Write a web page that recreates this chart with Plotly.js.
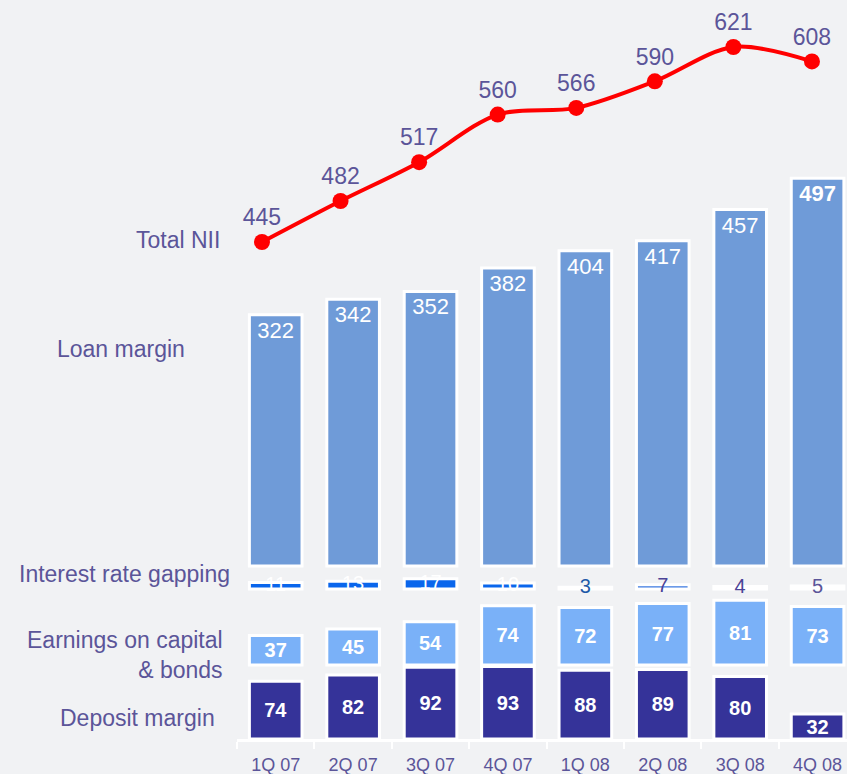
<!DOCTYPE html>
<html>
<head>
<meta charset="utf-8">
<script src="https://cdn.plot.ly/plotly-3.0.1.min.js"></script>
<style>
html,body{margin:0;padding:0;background:#f1f2f4;}
#chart{width:847px;height:774px;}
</style>
</head>
<body>
<div id="chart"></div>
<script>
// ---- data ----
const quarters = ['1Q 07','2Q 07','3Q 07','4Q 07','1Q 08','2Q 08','3Q 08','4Q 08'];
const totalNII = [445, 482, 517, 560, 566, 590, 621, 608];
const loanMargin = [322, 342, 352, 382, 404, 417, 457, 497];
const rateGapping = [11, 13, 17, 10, 3, 7, 4, 5];
const earningsCapital = [37, 45, 54, 74, 72, 77, 81, 73];
const depositMargin = [74, 82, 92, 93, 88, 89, 80, 32];
const seriesNames = ['Total NII', 'Loan margin', 'Interest rate gapping', 'Earnings on capital<br>& bonds', 'Deposit margin'];

// ---- styles ----
const FONT = 'Arial, "Liberation Sans", sans-serif';
const TXT = '#5b5599';
const BG = '#f1f2f4';
const barW = 0.68;
const outline = {color: '#ffffff', width: 3};

const gapColors = ['#0a66ec', '#0a66ec', '#0a66ec', '#0a66ec', '#ffffff', '#3b78e0', '#ffffff', '#ffffff'];
const gapTextColors = ['#ffffff', '#ffffff', '#ffffff', '#ffffff', '#1f5aa8', '#4b4397', '#4b4397', '#5b5599'];

const traces = [
  {
    type: 'bar', x: quarters, y: depositMargin, yaxis: 'y', width: barW,
    marker: {color: '#353399', line: outline},
    text: depositMargin.map(String), textposition: 'inside', insidetextanchor: 'middle',
    textfont: {family: FONT, size: 20, color: '#ffffff', weight: 'bold'}, constraintext: 'none',
    textangle: 0
  },
  {
    type: 'bar', x: quarters, y: earningsCapital, yaxis: 'y2', width: barW,
    marker: {color: '#7ab1f8', line: outline},
    text: earningsCapital.map(String), textposition: 'inside', insidetextanchor: 'middle',
    textfont: {family: FONT, size: 20, color: '#ffffff', weight: 'bold'}, constraintext: 'none',
    textangle: 0
  },
  {
    type: 'bar', x: quarters, y: rateGapping, yaxis: 'y3', width: barW,
    marker: {color: gapColors, line: outline},
    textposition: 'none'
  },
  {
    type: 'scatter', mode: 'text', x: quarters, y: rateGapping.map(v => v / 2), yaxis: 'y3',
    text: rateGapping.map(String), textposition: 'middle center', cliponaxis: false,
    textfont: {family: FONT, size: 20, color: gapTextColors}
  },
  {
    type: 'bar', x: quarters, y: loanMargin, yaxis: 'y4', width: barW,
    marker: {color: '#6f9bd8', line: outline},
    text: loanMargin.map((v, i) => i === loanMargin.length - 1 ? '<b>' + v + '</b>' : String(v)),
    textposition: 'inside', insidetextanchor: 'end', constraintext: 'none', textangle: 0,
    textfont: {family: FONT, size: 22, color: '#ffffff'}
  },
  {
    type: 'scatter', mode: 'lines+markers+text', x: quarters, y: totalNII, xaxis: 'x3', yaxis: 'y5',
    line: {color: '#ff0000', width: 4, shape: 'spline', smoothing: 0.9},
    marker: {color: '#ff0000', size: 16},
    text: totalNII.map(String), textposition: 'top center', cliponaxis: false,
    textfont: {family: FONT, size: 23, color: TXT}
  }
];

const yDomain = [35 / 774, 1];
const xDomain = [237 / 847, 1];
const hiddenY = (range, extra) => Object.assign({
  range: range, visible: false, showgrid: false, zeroline: false, fixedrange: true
}, extra || {});

const labelY = [240, 349, 574, 655, 718];
const labelX = [222, 187, 232, 225, 217];

const layout = {
  width: 847, height: 774,
  margin: {l: 0, r: 0, t: 0, b: 0},
  paper_bgcolor: BG, plot_bgcolor: BG,
  showlegend: false, hovermode: false, barmode: 'overlay',
  font: {family: FONT, color: TXT},
  xaxis: {
    type: 'category', domain: xDomain, range: [-0.5, 7.38], anchor: 'y',
    showline: true, linecolor: '#ffffff', linewidth: 3,
    ticks: 'outside', tickson: 'boundaries', ticklen: 7, tickwidth: 2, tickcolor: '#ffffff',
    showgrid: false, zeroline: false, fixedrange: true,
    tickfont: {family: FONT, size: 18, color: TXT}, ticklabelstandoff: 7
  },
  xaxis2: {
    overlaying: 'x', anchor: 'y', type: 'linear', range: [-0.5, 7.38], domain: xDomain,
    tickvals: quarters.map((q, i) => i), ticks: 'outside', ticklen: 4, tickwidth: 2,
    tickcolor: '#ffffff', showticklabels: false, showgrid: false, zeroline: false, showline: false
  },
  xaxis3: {
    overlaying: 'x', anchor: 'y', type: 'category', range: [-0.318, 7.446], domain: xDomain,
    visible: false, showgrid: false, zeroline: false
  },
  yaxis: hiddenY([0, 947.4], {domain: yDomain}),
  yaxis2: hiddenY([-92.5, 831.25], {overlaying: 'y'}),
  yaxis3: hiddenY([-250, 981.7], {overlaying: 'y'}),
  yaxis4: hiddenY([-221.8, 725.6], {overlaying: 'y'}),
  yaxis5: hiddenY([-3.6, 663.4], {overlaying: 'y'}),
  annotations: seriesNames.map((name, i) => ({
    text: name, xref: 'paper', yref: 'paper',
    x: labelX[i] / 847, y: (774 - labelY[i]) / 774,
    xanchor: 'right', yanchor: 'middle', align: 'right', showarrow: false,
    font: {family: FONT, size: 23, color: TXT}
  }))
};

Plotly.newPlot('chart', traces, layout, {displayModeBar: false, staticPlot: true});
</script>
</body>
</html>
